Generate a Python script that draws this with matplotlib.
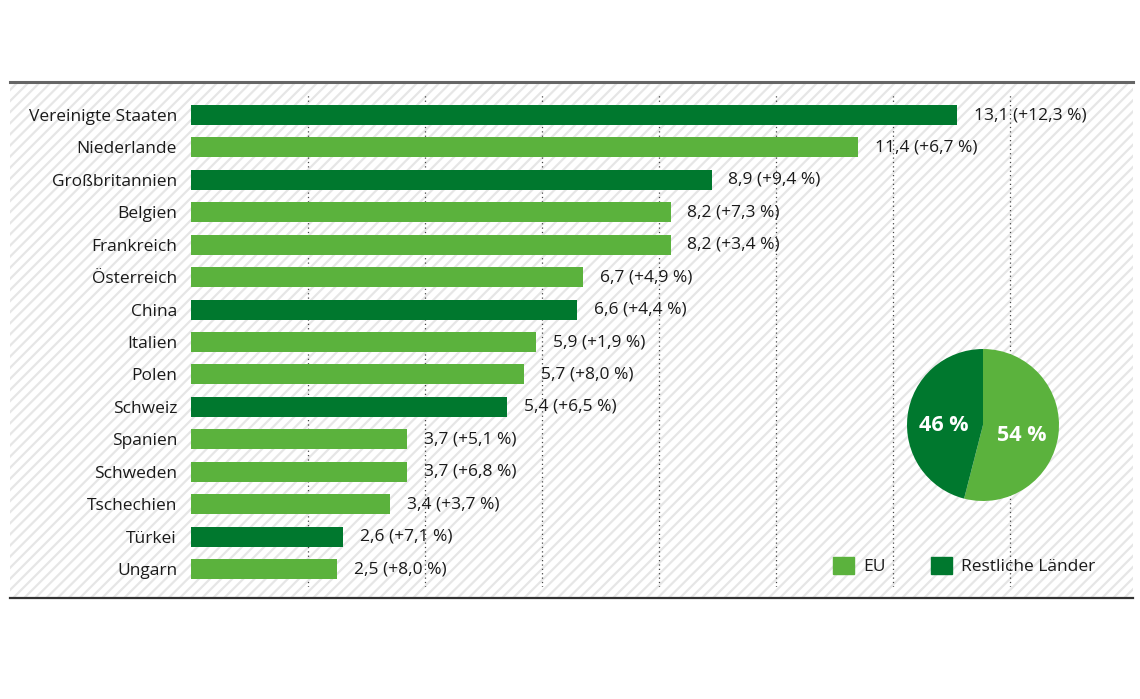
import matplotlib.pyplot as plt
import matplotlib.patches as mpatches

plt.rcParams['font.family'] = ['Open Sans', 'DejaVu Sans']

# Daten
laender = ["Vereinigte Staaten", "Niederlande", "Großbritannien", "Belgien",
           "Frankreich", "Österreich", "China", "Italien", "Polen", "Schweiz",
           "Spanien", "Schweden", "Tschechien", "Türkei", "Ungarn"]
werte = [13.1, 11.4, 8.9, 8.2, 8.2, 6.7, 6.6, 5.9, 5.7, 5.4, 3.7, 3.7, 3.4, 2.6, 2.5]
veraenderung = ["+12,3", "+6,7", "+9,4", "+7,3", "+3,4", "+4,9", "+4,4", "+1,9",
                "+8,0", "+6,5", "+5,1", "+6,8", "+3,7", "+7,1", "+8,0"]
ist_eu = [False, True, False, True, True, True, False, True, True, False,
          True, True, True, False, True]
anteile = [54, 46]  # EU, Restliche Länder
gitter = [2, 4, 6, 8, 10, 12, 14]

hell = "#5BB23D"
dunkel = "#00782E"
textfarbe = "#1a1a1a"
schrift = 12.5

W, H = 1140, 699


def fx(px):
    return px / W


def fy(py):
    return 1 - py / H


fig = plt.figure(figsize=(W / 100, H / 100), dpi=100)
plt.rcParams['hatch.linewidth'] = 1.6

# Schraffierter Hintergrund
hg = mpatches.Rectangle((fx(10), fy(598)), fx(1133) - fx(10), (598 - 82) / H,
                        transform=fig.transFigure, facecolor="white",
                        edgecolor="#e6e6e6", hatch="///", linewidth=0, zorder=-1)
fig.patches.append(hg)
fig.add_artist(plt.Line2D([fx(10), fx(1133)], [fy(82), fy(82)], color="#666666", lw=2.2))
fig.add_artist(plt.Line2D([fx(10), fx(1133)], [fy(598), fy(598)], color="#333333", lw=1.6))

# Balkendiagramm
ax = fig.add_axes([fx(191), fy(587), fx(1133) - fx(191), (587 - 95) / H], zorder=2)
ax.patch.set_visible(False)
farben = [hell if e else dunkel for e in ist_eu]
y = list(range(len(laender)))
ax.barh(y, werte, height=0.62, color=farben, zorder=3)
ax.set_xlim(0, 942 / 58.5)
ax.set_ylim(len(laender) - 1 + 0.555, -0.617)
ax.set_yticks(y)
ax.set_yticklabels(laender, fontsize=schrift, color=textfarbe)
ax.set_xticks(gitter)
ax.tick_params(axis="both", length=0, labelbottom=False)
ax.tick_params(axis="y", pad=10)
ax.grid(axis="x", linestyle=(0, (1, 2.5)), color="#444444", linewidth=0.9, zorder=1)
for s in ax.spines.values():
    s.set_visible(False)

for yi, w, v in zip(y, werte, veraenderung):
    txt = f"{w:.1f}".replace(".", ",") + f" ({v} %)"
    ax.annotate(txt, (w, yi), xytext=(12, 0), textcoords="offset points",
                va="center", ha="left", fontsize=schrift, color=textfarbe)

# Kreisdiagramm
r = 76
pax = fig.add_axes([fx(983 - r), fy(425 + r), 2 * r / W, 2 * r / H], zorder=5)
_, _, prozente = pax.pie(anteile, colors=[hell, dunkel], startangle=90,
                         counterclock=False, autopct=lambda p: f"{p:.0f} %",
                         pctdistance=0.52,
                         textprops=dict(color="white", fontsize=15.5, fontweight="bold"),
                         wedgeprops=dict(linewidth=0))
for t in prozente:
    t.set_y(t.get_position()[1] - 0.07)
pax.set_xlim(-1, 1)
pax.set_ylim(-1, 1)
pax.set_aspect("equal")

# Legende
griffe = [mpatches.Patch(color=hell, label="EU"),
          mpatches.Patch(color=dunkel, label="Restliche Länder")]
fig.legend(handles=griffe, loc="center left", bbox_to_anchor=(fx(833), fy(566)),
           ncol=2, frameon=False, fontsize=schrift, handlelength=1.2, handleheight=1.2,
           handletextpad=0.55, columnspacing=2.6, borderpad=0, borderaxespad=0,
           labelcolor=textfarbe)

fig.savefig("out.png", dpi=100)
